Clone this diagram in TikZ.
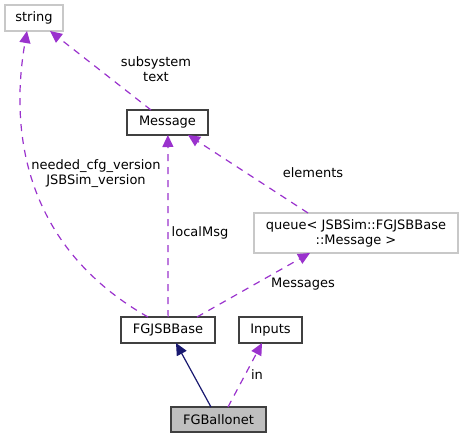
\documentclass[tikz,border=0pt]{standalone}
\usepackage{fontspec}
\setmainfont{DejaVu Sans}
\usetikzlibrary{arrows.meta}
\definecolor{edgepurple}{HTML}{9A32CD}
\definecolor{edgenavy}{HTML}{191970}
\definecolor{boxgray}{HTML}{BFBFBF}
\definecolor{lightborder}{HTML}{C8C8C8}
\definecolor{darkborder}{HTML}{404040}
\begin{document}
\begin{tikzpicture}[x=1pt,y=-1pt,
  every node/.style={font=\fontsize{13}{15}\selectfont, inner sep=0pt},
  cls/.style={draw=darkborder, line width=1.2pt, fill=white, anchor=center},
  ext/.style={draw=lightborder, line width=1.2pt, fill=white, anchor=center},
  cur/.style={draw=darkborder, line width=1.2pt, fill=boxgray, anchor=center},
  usage/.style={draw=edgepurple, line width=1.2pt, dash pattern=on 7pt off 6pt, -{Triangle[length=12pt,width=11pt]}},
  inherit/.style={draw=edgenavy, line width=1.2pt, -{Triangle[length=12pt,width=11pt]}},
  lbl/.style={align=center, font=\fontsize{13}{15}\selectfont}]
\useasboundingbox (0,0) rectangle (463,439);
% nodes
\node[ext, minimum width=58pt, minimum height=26pt] (string) at (34,18) {string};
\node[cls, minimum width=81pt, minimum height=25pt] (message) at (167.5,122.5) {Message};
\node[ext, minimum width=204pt, minimum height=40pt, align=center, font=\fontsize{13}{15}\selectfont] (queue) at (356,233) {queue< JSBSim::FGJSBBase\\::Message >};
\node[cls, minimum width=94pt, minimum height=26pt] (base) at (168,330) {FGJSBBase};
\node[cls, minimum width=63pt, minimum height=26pt] (inputs) at (270.5,330) {Inputs};
\node[cur, minimum width=95pt, minimum height=25pt] (ballonet) at (218.5,419.5) {FGBallonet};
% connector end points on the box borders
\coordinate (b1) at (211,407);
\coordinate (b2) at (228,407);
\coordinate (jt1) at (176,343);
\coordinate (it1) at (262,343);
\coordinate (bn) at (168.1,317);
\coordinate (mb) at (167.9,135);
\coordinate (bq) at (197,317);
\coordinate (qb) at (310,253);
\coordinate (qm) at (308,213);
\coordinate (mq) at (188,135);
\coordinate (ms) at (151,110);
\coordinate (sm) at (50,31);
\coordinate (bs) at (148,317);
\coordinate (sb) at (27,31);
% edges
\draw[inherit] (b1) -- (jt1);
\draw[usage] (b2) -- (it1);
\draw[usage] (bn) -- (mb);
\draw[usage] (bq) -- (qb);
\draw[usage] (qm) -- (mq);
\draw[usage] (ms) -- (sm);
\draw[usage] (bs) .. controls (30,250) and (8,140) .. (sb);
% labels
\node[lbl] (lsub) at (156,69.5) {subsystem\\text};
\node[lbl] (lneed) at (96,173.5) {needed\_cfg\_version\\JSBSim\_version};
\node[lbl] (lloc) at (200,233) {localMsg};
\node[lbl] (lmsgs) at (303,284) {Messages};
\node[lbl] (lelem) at (313,173) {elements};
\node[lbl] (lin) at (257,375) {in};
\end{tikzpicture}
\end{document}
